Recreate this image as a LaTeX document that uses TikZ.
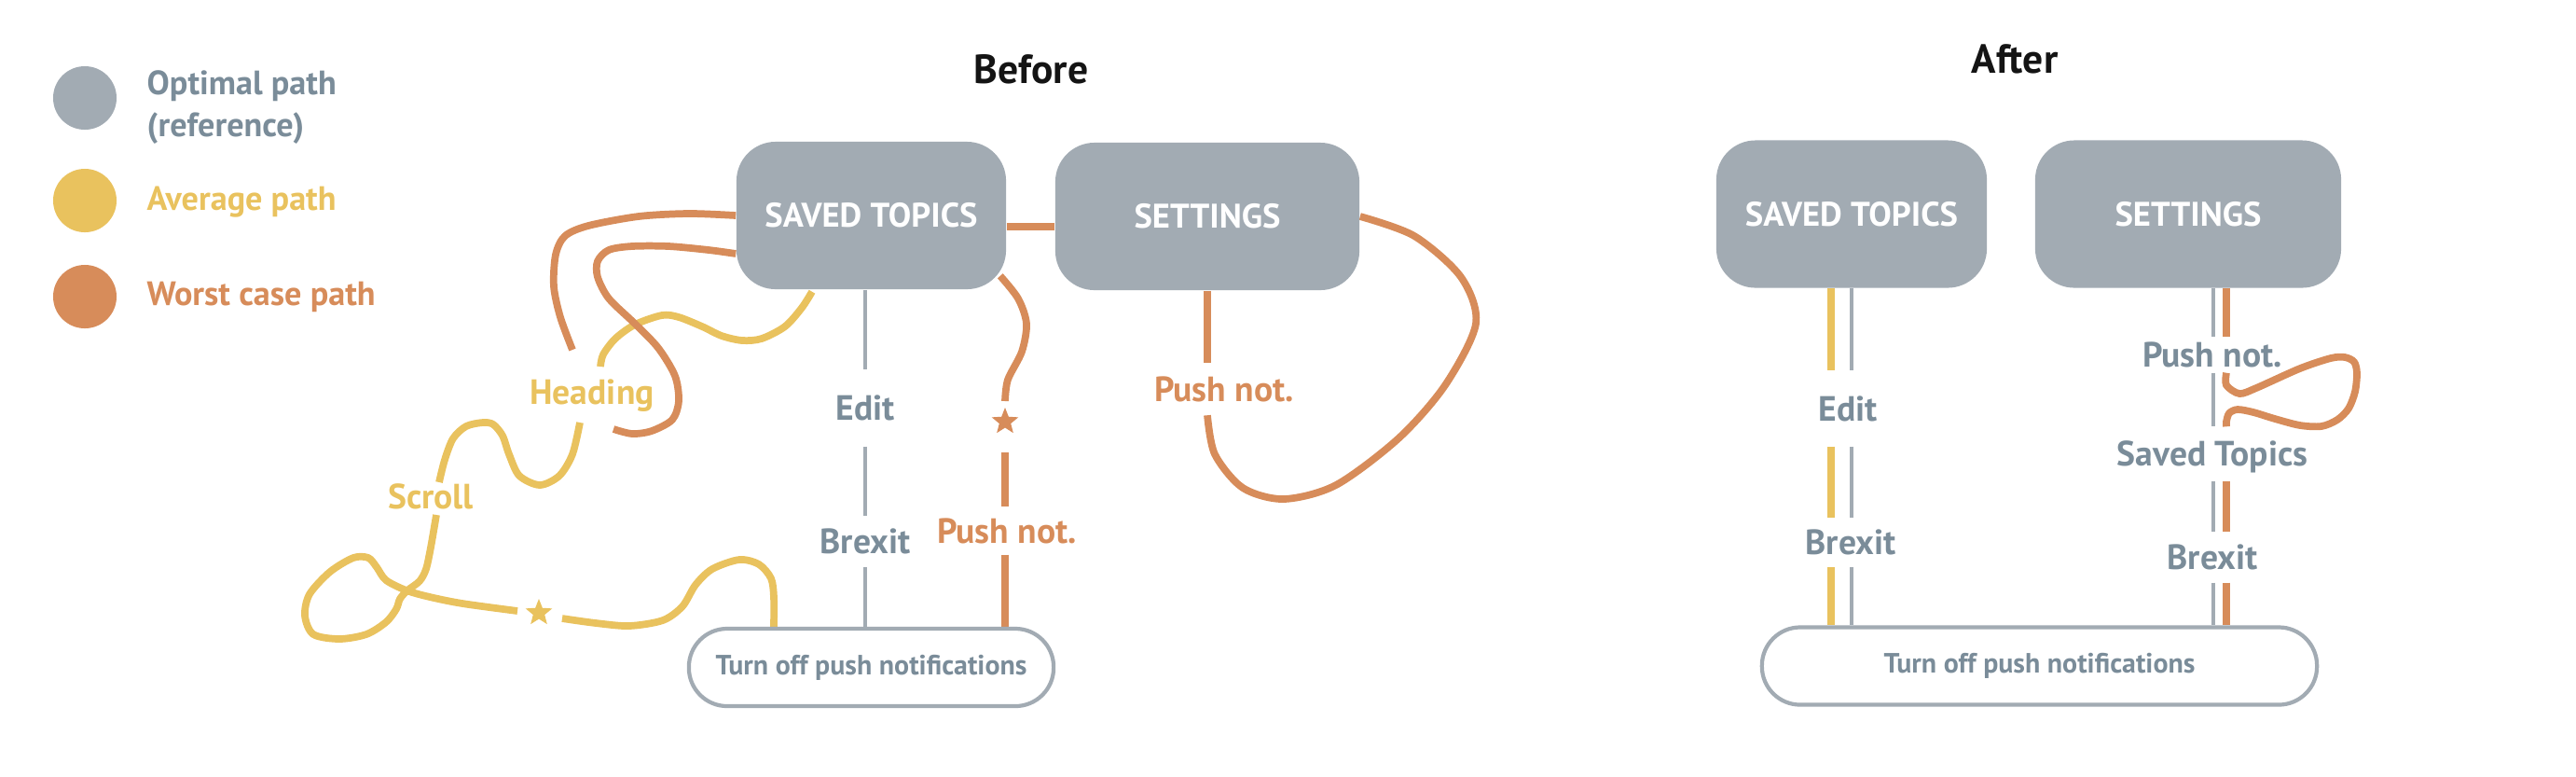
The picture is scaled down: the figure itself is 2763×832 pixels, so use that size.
\documentclass[tikz,border=0pt]{standalone}
\usepackage{fontspec}
\setmainfont{PT Sans}
\usetikzlibrary{calc,shapes.geometric}
\definecolor{boxgray}{RGB}{162,171,179}
\definecolor{txtgray}{RGB}{122,140,153}
\definecolor{avgyel}{RGB}{233,194,94}
\definecolor{worstor}{RGB}{215,140,90}
\definecolor{titleblk}{RGB}{20,20,20}
\pgfdeclarelayer{bg}
\pgfsetlayers{bg,main}
\begin{document}
\begin{tikzpicture}[x=0.01cm,y=-0.01cm,
  screen/.style={fill=boxgray, rounded corners=4.2mm, minimum height=1.58cm, text=white, inner sep=0pt,
    font=\bfseries\fontsize{10.4}{12}\selectfont},
  endbox/.style={draw=boxgray, line width=1.2pt, fill=white, rounded corners=4.1mm, minimum height=0.83cm,
    text=txtgray, inner sep=0pt, font=\bfseries\fontsize{8.5}{10}\selectfont},
  lbl/.style={font=\bfseries\fontsize{10.7}{12}\selectfont, inner sep=0pt, text height=7.4pt, text depth=0pt},
  legtxt/.style={font=\bfseries\fontsize{10.3}{12.8}\selectfont, inner sep=0pt},
  ttl/.style={font=\bfseries\fontsize{12.4}{14}\selectfont, text=titleblk, inner sep=0pt},
  legdot/.style={circle, minimum size=0.68cm, inner sep=0pt},
  starmark/.style={star, star points=5, star point ratio=2.3, minimum size=3mm, inner sep=0pt},
  optl/.style={draw=boxgray, line width=1.15pt},
  avgl/.style={draw=avgyel, line width=2.2pt},
  wrsl/.style={draw=worstor, line width=2.2pt}]
\useasboundingbox (0,0) rectangle (2763,832);

% legend
\node[legdot, fill=boxgray] (c1) at (91,105) {};
\node[legdot, fill=avgyel] (c2) at (91,215) {};
\node[legdot, fill=worstor] (c3) at (91,318) {};
\node[legtxt, text=txtgray, anchor=west, align=left] (l1) at (157,115) {Optimal path\\(reference)};
\node[legtxt, text=avgyel, anchor=base west] (l2) at (157,225) {Average path};
\node[legtxt, text=worstor, anchor=base west] (l3) at (157,327) {Worst case path};

% titles
\node[ttl] (bef) at (1106,74) {Before};
\node[ttl] (aft) at (2161,63) {After};

% before: screens
\node[screen, minimum width=2.89cm] (st1) at (934.5,231) {SAVED TOPICS};
\node[screen, minimum width=3.26cm] (se1) at (1295,232) {SETTINGS};
\node[endbox, minimum width=3.91cm] (to1) at (934.5,715.5) {Turn off push notifications};

% before: labels
\node[lbl, text=txtgray, minimum height=0.81cm] (ed1) at (928,437.5) {Edit};
\node[lbl, text=txtgray, minimum height=0.53cm] (br1) at (928,580.5) {Brexit};
\node[starmark, fill=worstor] (sa) at (1078,452) {};
\node[lbl, text=worstor, minimum height=0.50cm] (pn1) at (1080,569) {Push not.};
\node[lbl, text=worstor, minimum height=0.55cm] (pn2) at (1313,417) {Push not.};
\node[lbl, text=avgyel] (hd) at (635,420) {Heading};
\node[lbl, text=avgyel] (sc) at (462,532) {Scroll};
\node[starmark, fill=avgyel] (sb) at (578,657) {};

% after: screens
\node[screen, minimum width=2.90cm] (st2) at (1986,229.5) {SAVED TOPICS};
\node[screen, minimum width=3.28cm] (se2) at (2347,229.5) {SETTINGS};
\node[endbox, minimum width=5.95cm] (to2) at (2187.5,714) {Turn off push notifications};

% after: labels
\node[lbl, text=txtgray, minimum height=0.80cm] (ed2) at (1982,438) {Edit};
\node[lbl, text=txtgray, minimum height=0.51cm] (br2) at (1985,581.5) {Brexit};
\node[lbl, text=txtgray, minimum height=0.37cm] (pn3) at (2373,380.5) {Push not.};
\node[lbl, text=txtgray, minimum height=0.57cm] (sv) at (2373,486.5) {Saved Topics};
\node[lbl, text=txtgray, minimum height=0.53cm] (br3) at (2373,597.5) {Brexit};

% helper coordinates
\coordinate (o1s) at ($(st1.south east)+(-7,-15)$);
\coordinate (o1e) at ($(sa)+(0,-22)$);
\coordinate (o1r) at ($(sa)+(0,33)$);
\coordinate (o2e) at ($(hd)+(-21,-45)$);
\coordinate (o3s) at ($(st1.west)+(0,41)$);
\coordinate (o3e) at ($(hd)+(23,40)$);
\coordinate (o4s) at (se1.south |- pn2.south);
\coordinate (y1s) at ($(st1.south)+(-63.5,2)$);
\coordinate (y1e) at ($(hd)+(9,-27)$);
\coordinate (y2s) at ($(hd)+(-13,33)$);
\coordinate (y2e) at ($(sc)+(9,-15)$);
\coordinate (y3s) at ($(sc)+(6,20)$);
\coordinate (y3e) at ($(sb)+(-23,-2)$);
\coordinate (y4s) at ($(sb)+(25,6)$);
\coordinate (y4e) at ($(to1.north)+(-104.5,0)$);
\coordinate (ya) at ($(st2.south)+(-22,0)$);
\coordinate (ga) at ($(st2.south)+(-0.5,0)$);
\coordinate (gb) at ($(se2.south)+(27,0)$);
\coordinate (ob) at ($(se2.south)+(41,0)$);
\coordinate (obs) at (ob |- pn3.south);
\coordinate (obe) at (ob |- sv.north);

\begin{pgfonlayer}{bg}
% before: optimal
\draw[optl] (st1.south -| ed1) -- (ed1.north);
\draw[optl] (ed1.south) -- (br1.north);
\draw[optl] (br1.south) -- (br1.south |- to1.north);
% before: average
\draw[avgl] plot[smooth] coordinates {(y1s) (860,330) (842,350) (817,363) (796,365) (774,360) (753,350) (728,340) (710,338) (681,348) (660,363) (647,380) (y1e)};
\draw[avgl] plot[smooth] coordinates {(y2s) (614,487) (600,510) (579,520) (557,510) (546,487) (539,467) (529,455) (518,453) (500,457) (486,470) (477,493) (y2e)};
\draw[avgl] plot[smooth] coordinates {(y3s) (462,587) (457,610) (450,623) (437,633) (429,642) (425,653) (414,667) (393,680) (364,685) (336,680) (327,660) (332,637) (354,613) (379,598) (395,598) (404,608) (414,622) (436,633) (461,640) (496,647) (y3e)};
\draw[avgl] plot[smooth] coordinates {(y4s) (639,668) (675,671) (711,665) (732,650) (746,627) (764,610) (793,600) (814,605) (827,620) (830,640) (y4e)};
% before: worst
\draw[wrsl] plot[smooth] coordinates {(st1.west) (739,229) (685,232) (631,242) (606,253) (596,273) (594,307) (601,340) (o2e)};
\draw[wrsl] plot[smooth] coordinates {(o3s) (760,268) (717,264) (678,264) (653,268) (641,280) (641,297) (653,320) (681,347) (706,373) (724,403) (728,430) (721,450) (699,462) (678,465) (o3e)};
\draw[wrsl] plot[smooth] coordinates {(o1s) (1092,320) (1101,347) (1096,377) (1081,407) (o1e)};
\draw[wrsl] (o1r) -- (o1r |- pn1.north);
\draw[wrsl] (o1r |- pn1.south) -- (o1r |- to1.north);
\draw[wrsl] ($(st1.east)+(0,12)$) -- ($(se1.west)+(0,11)$);
\draw[wrsl] (se1.south) -- (se1.south |- pn2.north);
\draw[wrsl] plot[smooth] coordinates {(o4s) (1303,487) (1333,523) (1377,535) (1433,520) (1500,470) (1550,413) (1583,347) (1567,297) (1517,253) (se1.east)};

% after: left
\draw[avgl] (ya) -- (ya |- ed2.north);
\draw[avgl] (ya |- ed2.south) -- (ya |- br2.north);
\draw[avgl] (ya |- br2.south) -- (ya |- to2.north);
\draw[optl] (ga) -- (ga |- ed2.north);
\draw[optl] (ga |- ed2.south) -- (ga |- br2.north);
\draw[optl] (ga |- br2.south) -- (ga |- to2.north);
% after: right
\draw[optl] (gb) -- (gb |- pn3.north);
\draw[optl] (gb |- pn3.south) -- (gb |- sv.north);
\draw[optl] (gb |- sv.south) -- (gb |- br3.north);
\draw[optl] (gb |- br3.south) -- (gb |- to2.north);
\draw[wrsl] (ob) -- (ob |- pn3.north);
\draw[wrsl] plot[smooth] coordinates {(obs) (2388,413) (2402,422) (2420,416) (2467,395) (2500,384) (2515,383) (2525,388) (2528,400) (2526,420) (2519,438) (2507,450) (2490,457) (2467,456) (2440,449) (2417,442) (2400,439) (2391,443) (2388,452) (obe)};
\draw[wrsl] (ob |- sv.south) -- (ob |- br3.north);
\draw[wrsl] (ob |- br3.south) -- (ob |- to2.north);
\end{pgfonlayer}
\end{tikzpicture}
\end{document}
